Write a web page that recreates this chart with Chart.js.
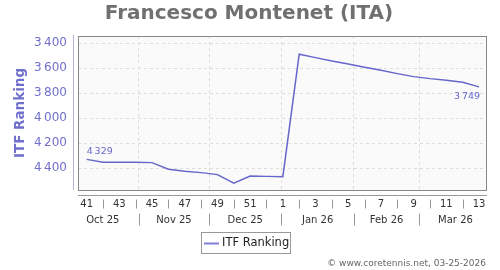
<!DOCTYPE html>
<html>
<head>
<meta charset="utf-8">
<script src="https://cdn.jsdelivr.net/npm/chart.js@4.4.1/dist/chart.umd.min.js"></script>
<style>
  html, body { margin: 0; padding: 0; background: #fff; }
</style>
</head>
<body>
<canvas id="chart" width="500" height="270"></canvas>
<script>
// Weekly ITF ranking, week 41 of 2025 to week 13 of 2026
const weeks = [41, 42, 43, 44, 45, 46, 47, 48, 49, 50, 51, 52, 1, 2, 3, 4, 5, 6, 7, 8, 9, 10, 11, 12, 13];
const ranking = [4329, 4352, 4352, 4352, 4355, 4408, 4424, 4435, 4451, 4520, 4462, 4465, 4467,
                 3488, 3515, 3542, 3566, 3592, 3616, 3643, 3667, 3683, 3696, 3712, 3749];
const yTicks = [3400, 3600, 3800, 4000, 4200, 4400];
const monthLabels = ['Oct 25', 'Nov 25', 'Dec 25', 'Jan 26', 'Feb 26', 'Mar 26'];
// month start days, counted from Oct 1 2025 (last one is Apr 1)
const monthStarts = [0, 31, 61, 92, 123, 151, 182];

const firstPointDay = 8.6;
const xMin = 4.9, xMax = 180;
const fmt = v => String(v).replace(/\B(?=(\d{3})+(?!\d))/g, '\u2009');

const points = ranking.map((v, i) => ({ x: firstPointDay + 7 * i, y: v }));

const decorations = {
    id: 'decorations',
    beforeDraw(chart) {
        const { ctx, chartArea: a } = chart;
        ctx.save();
        ctx.fillStyle = '#fafafa';
        ctx.fillRect(a.left, a.top, a.right - a.left, a.bottom - a.top);
        ctx.restore();
    },
    afterDraw(chart) {
        const { ctx, chartArea: a } = chart;
        const xs = chart.scales.x;
        const ys = chart.scales.y;
        ctx.save();

        // plot frame
        ctx.strokeStyle = '#888';
        ctx.lineWidth = 1;
        ctx.strokeRect(a.left + 0.5, a.top + 0.5, a.right - a.left - 1, a.bottom - a.top);

        // left axis line
        ctx.strokeStyle = '#b4b4e0';
        ctx.beginPath();
        ctx.moveTo(73.5, a.top - 1);
        ctx.lineTo(73.5, a.bottom);
        ctx.stroke();

        // bottom axis line
        ctx.strokeStyle = '#999';
        ctx.beginPath();
        ctx.moveTo(a.left, 195.5);
        ctx.lineTo(a.right, 195.5);
        ctx.stroke();

        // title
        ctx.fillStyle = '#707070';
        ctx.font = 'bold 20px "DejaVu Sans"';
        ctx.textAlign = 'center';
        ctx.textBaseline = 'middle';
        ctx.fillText('Francesco Montenet (ITA)', 249, 14);

        // y axis title
        ctx.save();
        ctx.translate(20.5, 113);
        ctx.rotate(-Math.PI / 2);
        ctx.fillStyle = '#7070cc';
        ctx.font = 'bold 13.5px "DejaVu Sans"';
        ctx.fillText('ITF Ranking', 0, 0);
        ctx.restore();

        // week row
        ctx.font = '10px "DejaVu Sans"';
        ctx.fillStyle = '#333';
        ctx.strokeStyle = '#999';
        weeks.forEach((w, i) => {
            const px = xs.getPixelForValue(firstPointDay + 7 * i);
            if (w % 2 === 1) {
                ctx.fillText(String(w), px, 204.5);
            } else {
                ctx.beginPath();
                ctx.moveTo(Math.round(px) + 0.5, 199.5);
                ctx.lineTo(Math.round(px) + 0.5, 208.5);
                ctx.stroke();
            }
        });

        // month row
        monthLabels.forEach((m, i) => {
            const mid = xs.getPixelForValue((monthStarts[i] + monthStarts[i + 1]) / 2);
            ctx.fillText(m, mid, 220.5);
            if (i > 0) {
                const px = Math.round(xs.getPixelForValue(monthStarts[i])) + 0.5;
                ctx.beginPath();
                ctx.moveTo(px, 213.5);
                ctx.lineTo(px, 225.5);
                ctx.stroke();
            }
        });

        // first and last value labels
        ctx.fillStyle = '#6666cc';
        ctx.font = '9.5px "DejaVu Sans"';
        const first = points[0], last = points[points.length - 1];
        ctx.textAlign = 'left';
        ctx.fillText(fmt(first.y), xs.getPixelForValue(first.x), ys.getPixelForValue(first.y) - 8);
        ctx.textAlign = 'right';
        ctx.fillText(fmt(last.y), xs.getPixelForValue(last.x) + 1, ys.getPixelForValue(last.y) + 10);

        // legend
        ctx.strokeStyle = '#999';
        ctx.lineWidth = 1;
        ctx.strokeRect(201.5, 232.5, 89, 21);
        ctx.strokeStyle = '#7f7fd6';
        ctx.lineWidth = 2;
        ctx.beginPath();
        ctx.moveTo(204, 243.5);
        ctx.lineTo(219, 243.5);
        ctx.stroke();
        ctx.fillStyle = '#222';
        ctx.font = '11.5px "DejaVu Sans"';
        ctx.textAlign = 'left';
        ctx.fillText('ITF Ranking', 222, 243.5);

        // footer
        ctx.fillStyle = '#666';
        ctx.font = '9px "DejaVu Sans"';
        ctx.textAlign = 'right';
        ctx.fillText('\u00a9 www.coretennis.net, 03-25-2026', 486, 264);

        ctx.restore();
    }
};

new Chart(document.getElementById('chart'), {
    type: 'line',
    data: {
        datasets: [{
            label: 'ITF Ranking',
            data: points,
            borderColor: '#6666cc',
            borderWidth: 1.5,
            pointRadius: 0,
            tension: 0,
            fill: false
        }]
    },
    options: {
        responsive: false,
        animation: false,
        devicePixelRatio: 1,
        layout: { padding: { top: 36, right: 13, left: 0, bottom: 0 } },
        plugins: {
            legend: { display: false },
            title: { display: false },
            tooltip: { enabled: false }
        },
        scales: {
            x: {
                type: 'linear',
                min: xMin,
                max: xMax,
                afterBuildTicks: s => { s.ticks = monthStarts.slice(1, 6).map(v => ({ value: v })); },
                afterFit: s => { s.height = 80; },
                ticks: { display: false },
                border: { display: false, dash: [3, 3] },
                grid: { color: '#dcdcdc', drawTicks: false }
            },
            y: {
                reverse: true,
                min: 3342,
                max: 4574,
                afterBuildTicks: s => { s.ticks = yTicks.map(v => ({ value: v })); },
                afterFit: s => { s.width = 78; },
                ticks: {
                    padding: 11,
                    color: '#7070cc',
                    font: { family: 'DejaVu Sans', size: 12 },
                    callback: v => fmt(v)
                },
                border: { display: false, dash: [3, 3] },
                grid: { color: '#dcdcdc', drawTicks: false }
            }
        }
    },
    plugins: [decorations]
});
</script>
</body>
</html>
